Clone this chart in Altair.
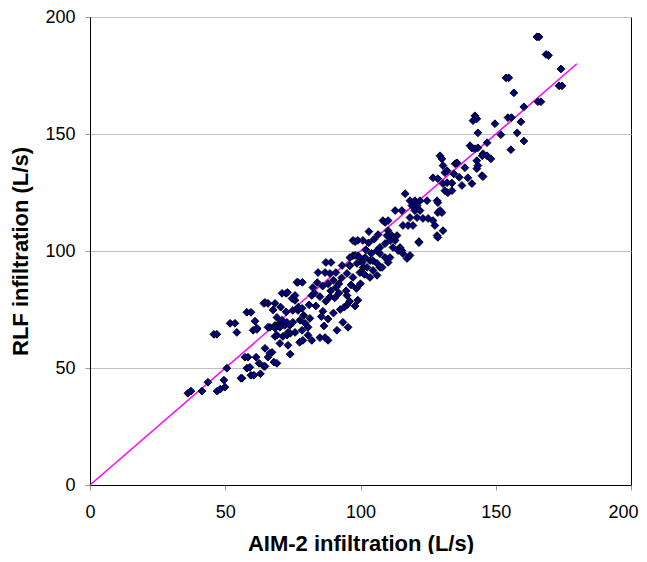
import altair as alt
import pandas as pd

aim2 = [
    36.2, 37.3, 41.4, 43.6, 47.0, 49.9, 49.5, 45.8, 46.9, 48.2,
    50.6, 51.8, 53.6, 54.3, 56.2, 58.0, 59.5, 57.3, 58.4, 61.4, 64.3, 64.7, 61.0, 60.3, 61.7,
    58.0, 59.5, 64.3, 62.5, 60.6, 59.1, 55.8, 61.7, 63.0, 64.7,
    65.8, 68.4, 67.3, 68.0, 69.1, 65.8, 66.5, 67.7, 71.0, 72.5, 73.0, 66.5, 68.4, 70.2, 72.0,
    73.9, 75.0, 68.4, 71.3, 74.0, 73.2, 74.0, 69.1, 72.8, 75.8, 74.7, 75.8, 76.5, 76.9, 78.5,
    69.1, 71.0, 72.8, 77.6, 79.5, 65.8, 68.4, 70.2, 73.2, 75.8, 78.4, 75.0, 76.9, 78.4, 72.5,
    70.5, 77.0, 79.0, 64.7, 70.2, 77.5,
    80.6, 78.7, 82.0, 81.3, 80.6, 82.4, 82.0, 87.2, 88.7, 90.5, 92.0, 94.7, 95.0, 96.0, 95.0,
    94.0, 98.0, 99.0, 86.1, 91.3, 93.5, 95.4, 85.0, 86.9, 88.0, 87.2, 89.1, 84.3, 86.9, 88.7,
    90.9, 93.2, 96.0, 98.7, 101.0, 99.8, 97.2, 95.0, 97.2, 99.0, 100.9, 97.2, 99.0, 101.7,
    84.0, 86.0, 88.0, 90.0, 92.0, 83.0, 85.0, 89.0, 91.0, 93.0, 83.5, 85.5, 88.0, 90.0, 92.5,
    96.5, 98.5, 100.0, 81.0, 86.5,
    103.1, 98.0, 108.3, 109.1, 110.2, 112.8, 115.3, 110.2, 109.8, 111.6, 113.5, 112.8, 112.0,
    114.6, 107.2, 109.1, 111.0, 106.1, 107.2, 109.1, 113.9, 115.3, 115.7, 117.2, 118.3, 96.1,
    98.0, 99.8, 103.5, 100.6, 96.1, 102.4, 104.6, 106.1, 107.2, 108.0, 110.2, 110.9, 104.6,
    106.1, 103.5, 101.5, 116.5, 118.3, 120.1, 122.0, 124.6, 119.0, 120.9, 120.1, 122.0, 120.9,
    118.3, 123.1, 125.0, 126.8, 128.3, 128.6, 130.1, 115.7, 117.6, 119.4, 130.5, 128.3, 121.6,
    127.5, 128.6, 121.6, 128.6, 129.4, 103.0, 105.0, 106.5, 104.0, 102.0,
    129.4, 130.1, 130.5, 135.0, 131.2, 132.0, 126.8, 128.6, 132.0, 130.5, 131.2, 132.3, 133.8,
    133.8, 135.7, 138.6, 142.3, 143.0, 141.6, 143.4, 140.5, 142.3, 143.4, 145.3, 146.8, 143.0,
    143.0, 144.9, 139.7, 141.2, 149.7, 154.5, 155.8, 159.3, 151.9, 157.9, 160.4, 155.6, 146.8,
    141.2, 145.0, 148.2, 143.4, 145.3, 136.5, 137.5, 134.5,
    165.2, 166.0, 168.6, 169.5, 174.1, 173.4, 174.5, 153.8, 154.8, 156.7, 160.4, 165.6, 166.7,
]

rlf = [
    39.2, 40.1, 40.1, 43.9, 40.1, 41.8, 44.8, 64.4, 64.4, 41.0,
    49.9, 69.1, 69.1, 65.2, 45.6, 49.9, 46.9, 54.6, 54.6, 54.6, 50.7, 58.4, 70.0, 66.1, 66.5,
    73.8, 73.8, 77.6, 52.0, 46.9, 50.3, 45.6, 67.0, 47.5, 78.0,
    77.6, 77.6, 56.7, 52.5, 52.0, 54.6, 56.3, 74.8, 81.9, 81.9, 82.3, 67.4, 68.2, 69.1, 68.2,
    68.2, 69.5, 63.5, 63.5, 64.8, 59.7, 55.9, 64.0, 64.0, 78.9, 79.7, 81.0, 86.6, 86.6, 86.6,
    71.6, 70.4, 69.5, 70.4, 69.1, 67.4, 67.0, 67.4, 65.2, 65.2, 66.1, 74.6, 74.6, 75.5, 74.0,
    76.0, 76.0, 72.5, 50.7, 60.5, 61.0,
    64.0, 61.8, 61.8, 71.2, 67.4, 84.4, 81.0, 78.5, 80.4, 80.0, 82.0, 83.0, 81.0, 78.5, 77.0,
    76.0, 76.5, 79.0, 74.2, 66.1, 69.5, 67.4, 63.0, 63.0, 61.8, 95.1, 95.1, 90.8, 90.8, 90.4,
    90.8, 93.8, 93.8, 94.7, 93.0, 90.8, 88.7, 90.4, 104.5, 104.5, 104.5, 98.0, 98.0, 97.2,
    86.5, 85.0, 86.0, 87.5, 86.0, 82.0, 80.5, 83.0, 84.5, 88.5, 76.5, 72.0, 71.0, 73.5, 75.0,
    85.5, 84.0, 86.0, 77.0, 68.0,
    108.3, 104.0, 113.0, 112.2, 113.0, 117.3, 117.3, 108.7, 106.6, 106.6, 106.6, 104.5, 101.5,
    101.5, 101.5, 103.2, 104.5, 100.2, 98.9, 97.2, 100.2, 100.2, 98.9, 96.8, 98.1, 97.2,
    98.1, 97.2, 95.9, 95.1, 93.8, 93.0, 95.9, 94.7, 93.0, 93.0, 95.1, 97.2, 91.7,
    89.6, 88.7, 90.0, 124.5, 121.5, 121.5, 121.5, 121.5, 119.4, 119.4, 117.3, 117.3, 114.3,
    114.3, 113.9, 113.9, 113.0, 121.5, 116.4, 116.4, 110.9, 110.9, 110.9, 108.7, 106.6, 104.0,
    110.9, 105.8, 103.6, 120.7, 117.3, 103.5, 105.0, 107.0, 99.0, 100.5,
    140.7, 139.4, 136.5, 137.3, 133.5, 134.3, 131.3, 130.9, 129.2, 128.8, 125.8, 124.9, 125.8,
    129.0, 137.7, 135.6, 157.8, 156.5, 155.7, 150.5, 145.0, 143.7, 144.1, 141.6, 140.7, 138.6,
    135.2, 132.2, 131.3, 128.8, 154.4, 157.0, 157.0, 155.2, 149.7, 150.5, 147.0, 143.3, 146.3,
    144.0, 140.7, 139.4, 136.5, 131.8, 131.5, 128.0, 133.0,
    191.5, 191.5, 184.0, 183.6, 177.8, 170.6, 170.6, 174.0, 174.0, 167.6, 161.6, 163.8, 163.8,
]

line_x = [0, 180]
line_y = [0, 180]
x_ticks = [0, 50, 100, 150, 200]
y_ticks = [0, 50, 100, 150, 200]

pts = pd.DataFrame({"x": aim2, "y": rlf})
ref = pd.DataFrame({"x": line_x, "y": line_y})

FONT = "Liberation Sans"

xscale = alt.Scale(domain=[0, 200], nice=False)
yscale = alt.Scale(domain=[0, 200], nice=False)

xaxis = alt.Axis(
    title="AIM-2 infiltration (L/s)", values=x_ticks, grid=False,
    labelFont=FONT, labelFontSize=18, labelColor="black", labelPadding=13,
    labelOffset=alt.ExprRef("datum.value == 200 ? -8 : 0"),
    titleFont=FONT, titleFontSize=22, titleFontWeight="bold", titleColor="black",
    titlePadding=12, tickSize=5, tickColor="#999999", domainColor="black",
    labelFlush=False,
)
yaxis = alt.Axis(
    title="RLF infiltration (L/s)", values=y_ticks, grid=True, gridColor="#c0c0c0",
    labelFont=FONT, labelFontSize=18, labelColor="black", labelPadding=10,
    titleFont=FONT, titleFontSize=22, titleFontWeight="bold", titleColor="black",
    titlePadding=12, tickSize=5, tickColor="#999999", domainColor="black",
    labelFlush=False,
)

scatter = alt.Chart(pts).mark_point(
    shape="diamond", filled=True, size=60, fill="#000080", stroke="black",
    strokeWidth=1, opacity=1,
).encode(
    x=alt.X("x:Q", scale=xscale, axis=xaxis),
    y=alt.Y("y:Q", scale=yscale, axis=yaxis),
)

line = alt.Chart(ref).mark_line(color="#ff00ff", strokeWidth=1.5).encode(
    x=alt.X("x:Q", scale=xscale),
    y=alt.Y("y:Q", scale=yscale),
)

chart = alt.layer(line, scatter).properties(
    width=541, height=468,
    autosize=alt.AutoSizeParams(type="none"),
    padding={"left": 82, "top": 9, "right": 8, "bottom": 69},
    background="white",
).configure_view(stroke="black", strokeWidth=1)

chart.save("out.html", embed_options={"renderer": "svg", "actions": False})
